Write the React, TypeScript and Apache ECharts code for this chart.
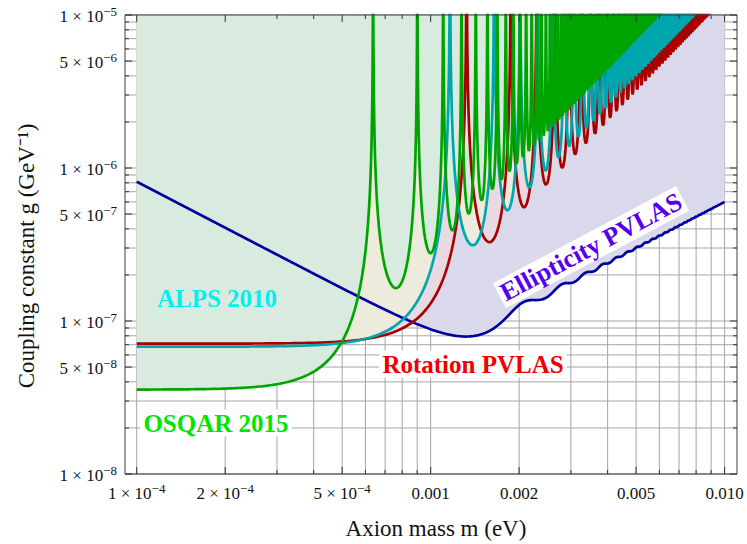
import React, { useEffect, useRef } from 'react';
import * as echarts from 'echarts';

// ---------------- data ----------------
// Oscillating limits (LSW / rotation): low-mass plateau of g (GeV^-1) and mass of first zero of sensitivity (eV)
const LSW_NAMES = ['Rotation PVLAS', 'ALPS 2010', 'OSQAR 2015'];
const LSW_PLATEAU_G = [7.11e-8, 6.79e-8, 3.56e-8];
const LSW_FIRST_ZERO_M = [1.325e-3, 1.163e-3, 6.37e-4];
// Ellipticity PVLAS limit: g at the two ends of the mass range
const ELL_NAME = 'Ellipticity PVLAS';
const ELL_MASS_ENDS = [1e-4, 1e-2];
const ELL_G_ENDS = [8.14e-7, 6.0e-7];

// tick labels
const X_TICK_VALUES = [1e-4, 2e-4, 5e-4, 1e-3, 2e-3, 5e-3, 1e-2];
const X_TICK_BASE = ['1 × 10', '2 × 10', '5 × 10', '0.001', '0.002', '0.005', '0.010'];
const X_TICK_SUP = ['−4', '−4', '−4', '', '', '', ''];
const Y_TICK_VALUES = [1e-8, 5e-8, 1e-7, 5e-7, 1e-6, 5e-6, 1e-5];
const Y_TICK_BASE = ['1 × 10', '5 × 10', '1 × 10', '5 × 10', '1 × 10', '5 × 10', '1 × 10'];
const Y_TICK_SUP = ['−8', '−8', '−7', '−7', '−6', '−6', '−5'];
const GRID_MANTISSAS = [1, 2, 3, 4, 5, 6, 7, 8, 9];
const X_GRID_DECADES = [1e-4, 1e-3];
const X_GRID_END = 1e-2;
const Y_GRID_DECADES = [1e-8, 1e-7, 1e-6];
const Y_GRID_END = 1e-5;

// ---------------- layout / styles ----------------
const W = 747;
const H = 544;
const FONT = '"Liberation Serif", "Times New Roman", serif';
const PX_PER_DECADE = 293.8;
const XMIN = -4 - 11.7 / PX_PER_DECADE;
const XMAX = -2 + 12.4 / PX_PER_DECADE;
const YMIN = -8;
const YMAX = -5;
const CAP = -4.6;

const LINE_COLORS: Record<string, string> = {
  'Ellipticity PVLAS': '#00009e',
  'Rotation PVLAS': '#a80000',
  'ALPS 2010': '#00a6ae',
  'OSQAR 2015': '#00a400',
};
const FILL_COLORS: Record<string, string> = {
  'Ellipticity PVLAS': '#dad9eb',
  'Rotation PVLAS': '#e9d9e3',
  'ALPS 2010': '#edebdb',
  'OSQAR 2015': '#d9ebdf',
};

function lswPoints(g0: number, m1: number): number[][] {
  const pts: number[][] = [];
  const val = (phi: number) => {
    const s = Math.abs(Math.sin(phi));
    if (s < 1e-9) return CAP;
    return Math.min(Math.log10((g0 * phi) / s), CAP);
  };
  const mOf = (phi: number) => m1 * Math.sqrt(phi / Math.PI);
  const l0 = -4;
  const l1 = Math.log10(0.8 * m1);
  for (let i = 0; i < 100; i++) {
    const lm = l0 + ((l1 - l0) * i) / 100;
    const m = Math.pow(10, lm);
    const phi = Math.PI * (m / m1) * (m / m1);
    pts.push([lm, val(phi)]);
  }
  const phiA = Math.PI * 0.64;
  for (let k = 0; k <= 80; k++) {
    const t = k / 80;
    const phi = phiA + (Math.PI - phiA) * Math.sin((t * Math.PI) / 2);
    pts.push([Math.log10(mOf(phi)), val(phi)]);
  }
  const K = 44;
  for (let n = 1; n < 600; n++) {
    if (Math.log10(g0 * n * Math.PI) > YMAX + 0.02) break;
    if (mOf(n * Math.PI) > 0.0102) break;
    for (let k = 1; k <= K; k++) {
      const phi = n * Math.PI + (Math.PI * (1 - Math.cos((Math.PI * k) / K))) / 2;
      pts.push([Math.log10(mOf(phi)), val(phi)]);
    }
  }
  return pts;
}

function ellPoints(): number[][] {
  // g = G0 * x / sqrt(x - sin x), x = (m/mu)^2 ; the two end values fix G0 and mu
  const lowC = ELL_G_ENDS[0] * ELL_MASS_ENDS[0]; // G0*sqrt(6)*mu
  const highC = ELL_G_ENDS[1] / ELL_MASS_ENDS[1]; // G0/mu
  const mu = Math.sqrt(lowC / Math.sqrt(6) / highC);
  const G0 = highC * mu;
  const pts: number[][] = [];
  const N = 900;
  for (let i = 0; i <= N; i++) {
    const lm = -4 + (2 * i) / N;
    const m = Math.pow(10, lm);
    const x = (m / mu) * (m / mu);
    const d = x < 1e-3 ? (x * x * x) / 6 - Math.pow(x, 5) / 120 : x - Math.sin(x);
    pts.push([lm, Math.log10((G0 * x) / Math.sqrt(d))]);
  }
  return pts;
}

const RICH = {
  b: { fontSize: 17, fontFamily: FONT, fill: '#111', lineHeight: 20, verticalAlign: 'bottom' },
  s: { fontSize: 13, fontFamily: FONT, fill: '#111', lineHeight: 10, verticalAlign: 'top' },
};
const richText = (base: string, sup: string) => (sup ? `{b|${base}}{s|${sup}}` : `{b|${base}}`);

function gridValues(decades: number[], end: number) {
  const out: number[] = [];
  decades.forEach((d) => GRID_MANTISSAS.forEach((k) => out.push(k * d)));
  out.push(end);
  return out;
}

function buildOption(): any {
  const xGrid = gridValues(X_GRID_DECADES, X_GRID_END);
  const yGrid = gridValues(Y_GRID_DECADES, Y_GRID_END);
  const isMajorX = (v: number) => X_TICK_VALUES.some((t) => Math.abs(Math.log10(t) - Math.log10(v)) < 1e-6);
  const isMajorY = (v: number) => Y_TICK_VALUES.some((t) => Math.abs(Math.log10(t) - Math.log10(v)) < 1e-6);

  const curves: { name: string; data: number[][] }[] = [{ name: ELL_NAME, data: ellPoints() }];
  LSW_NAMES.forEach((n, i) => curves.push({ name: n, data: lswPoints(LSW_PLATEAU_G[i], LSW_FIRST_ZERO_M[i]) }));

  const gridSeries = {
    type: 'custom',
    z: 1,
    silent: true,
    data: [[XMIN, YMIN]],
    renderItem: (params: any, api: any) => {
      const cs = params.coordSys;
      const ch: any[] = [];
      xGrid.forEach((v) => {
        const px = api.coord([Math.log10(v), YMIN])[0];
        ch.push({ type: 'line', shape: { x1: px, y1: cs.y, x2: px, y2: cs.y + cs.height }, style: { stroke: '#a4a4a4', lineWidth: 1 } });
      });
      yGrid.forEach((v) => {
        const py = api.coord([XMIN, Math.log10(v)])[1];
        ch.push({ type: 'line', shape: { x1: cs.x, y1: py, x2: cs.x + cs.width, y2: py }, style: { stroke: '#a4a4a4', lineWidth: 1 } });
      });
      return { type: 'group', children: ch };
    },
  };

  const fillSeries = curves.map((c) => ({
    type: 'line',
    name: c.name + ' fill',
    z: 2,
    data: c.data,
    showSymbol: false,
    silent: true,
    clip: true,
    lineStyle: { width: 0, opacity: 0 },
    areaStyle: { origin: 'end', color: FILL_COLORS[c.name], opacity: 1 },
  }));

  const lineSeries = curves.map((c) => ({
    type: 'line',
    name: c.name,
    z: 3,
    data: c.data,
    showSymbol: false,
    silent: true,
    clip: true,
    lineStyle: { width: 2.7, color: LINE_COLORS[c.name] },
  }));

  const overlaySeries = {
    type: 'custom',
    z: 5,
    silent: true,
    data: [[XMIN, YMIN]],
    renderItem: (params: any, api: any) => {
      const cs = params.coordSys;
      const left = cs.x;
      const top = cs.y;
      const right = cs.x + cs.width;
      const bottom = cs.y + cs.height;
      const ch: any[] = [];
      ch.push({ type: 'rect', shape: { x: left, y: top, width: cs.width, height: cs.height }, style: { fill: 'none', stroke: '#3c3c3c', lineWidth: 1 } });
      const tickStyle = { stroke: '#333', lineWidth: 1 };
      xGrid.forEach((v) => {
        const px = api.coord([Math.log10(v), YMIN])[0];
        const len = isMajorX(v) ? 7 : 4;
        ch.push({ type: 'line', shape: { x1: px, y1: bottom, x2: px, y2: bottom - len }, style: tickStyle });
        ch.push({ type: 'line', shape: { x1: px, y1: top, x2: px, y2: top + len }, style: tickStyle });
      });
      yGrid.forEach((v) => {
        const py = api.coord([XMIN, Math.log10(v)])[1];
        const len = isMajorY(v) ? 7 : 4;
        ch.push({ type: 'line', shape: { x1: left, y1: py, x2: left + len, y2: py }, style: tickStyle });
        ch.push({ type: 'line', shape: { x1: right, y1: py, x2: right - len, y2: py }, style: tickStyle });
      });
      X_TICK_VALUES.forEach((v, i) => {
        const px = api.coord([Math.log10(v), YMIN])[0];
        ch.push({
          type: 'text',
          x: px,
          y: bottom + 18,
          style: { text: richText(X_TICK_BASE[i], X_TICK_SUP[i]), rich: RICH, align: 'center', verticalAlign: 'middle' },
        });
      });
      Y_TICK_VALUES.forEach((v, i) => {
        const py = api.coord([XMIN, Math.log10(v)])[1];
        ch.push({
          type: 'text',
          x: left - 8,
          y: py,
          style: { text: richText(Y_TICK_BASE[i], Y_TICK_SUP[i]), rich: RICH, align: 'right', verticalAlign: 'middle' },
        });
      });
      return { type: 'group', children: ch };
    },
  };

  const TITLE_SIZE = 23;
  const labelFont = (size: number) => ({ fontSize: size, fontWeight: 'bold', fontFamily: FONT });

  const graphics = [
    {
      type: 'text', x: 26, y: 256, rotation: Math.PI / 2, z: 100,
      style: { text: 'Coupling constant g (GeV⁻¹)', fontSize: TITLE_SIZE, fontFamily: FONT, fill: '#111', align: 'center', verticalAlign: 'middle' },
    },
    {
      type: 'text', x: 436, y: 528, z: 100,
      style: { text: 'Axion mass m (eV)', fontSize: TITLE_SIZE, fontFamily: FONT, fill: '#111', align: 'center', verticalAlign: 'middle' },
    },
    {
      type: 'text', x: 217, y: 298, z: 100,
      style: { text: 'ALPS 2010', fill: '#00f0f0', align: 'center', verticalAlign: 'middle', ...labelFont(25) },
    },
    {
      type: 'text', x: 216, y: 423, z: 100,
      style: { text: 'OSQAR 2015', fill: '#00e600', backgroundColor: '#ffffff', padding: [1, 3], align: 'center', verticalAlign: 'middle', ...labelFont(25) },
    },
    {
      type: 'text', x: 473, y: 364, z: 100,
      style: { text: 'Rotation PVLAS', fill: '#ee0000', backgroundColor: '#ffffff', padding: [1, 3], align: 'center', verticalAlign: 'middle', ...labelFont(25) },
    },
    {
      type: 'text', x: 591, y: 247, z: 100, rotation: (28 * Math.PI) / 180,
      style: { text: 'Ellipticity PVLAS', fill: '#5500ee', backgroundColor: '#ffffff', padding: [1, 3], align: 'center', verticalAlign: 'middle', ...labelFont(26) },
    },
  ];

  return {
    animation: false,
    backgroundColor: '#ffffff',
    grid: { left: 125, top: 15, width: 612, height: 459, show: false },
    xAxis: {
      type: 'value', min: XMIN, max: XMAX,
      axisLine: { show: false }, axisTick: { show: false }, axisLabel: { show: false }, splitLine: { show: false },
    },
    yAxis: {
      type: 'value', min: YMIN, max: YMAX,
      axisLine: { show: false }, axisTick: { show: false }, axisLabel: { show: false }, splitLine: { show: false },
    },
    series: [gridSeries, ...fillSeries, ...lineSeries, overlaySeries],
    graphic: { elements: graphics },
  };
}

export default function App() {
  const ref = useRef<HTMLDivElement>(null);
  useEffect(() => {
    const chart = echarts.init(ref.current as HTMLDivElement, null, { renderer: 'svg' });
    chart.setOption(buildOption());
    return () => chart.dispose();
  }, []);
  return (
    <div
      ref={ref}
      style={{ position: 'absolute', left: 0, top: 0, width: W, height: H, background: '#fff' }}
    />
  );
}
